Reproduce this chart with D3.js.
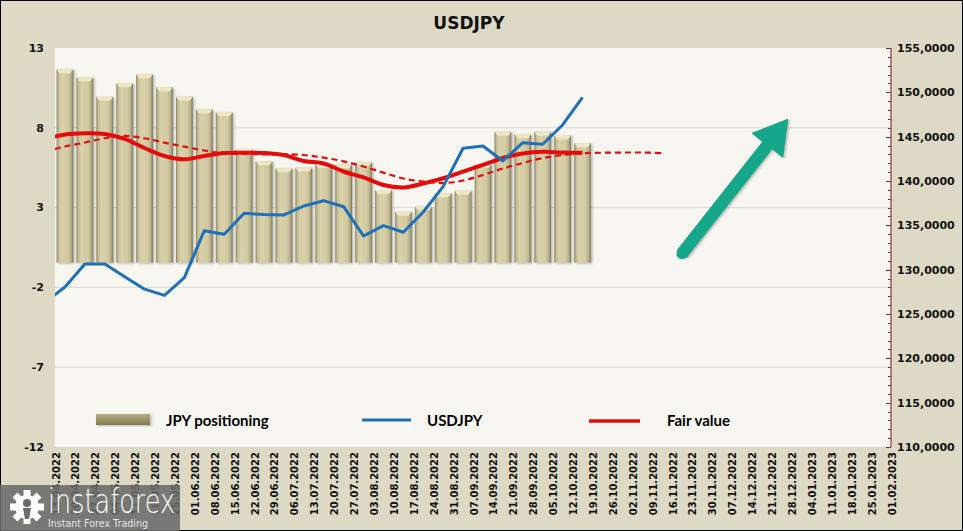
<!DOCTYPE html>
<meta charset="utf-8">
<style>
body { margin: 0; }
svg text { font-family: "DejaVu Sans", Verdana, sans-serif; }
.legend text { font-family: Lato, "Open Sans", sans-serif; font-weight: bold; font-size: 15px; }
</style>
<body>
<svg id="chart"></svg>
<script src="https://d3js.org/d3.v7.min.js"></script>
<script>

// weekly dates on the x axis
var dates = ["13.04.2022","20.04.2022","27.04.2022","04.05.2022","11.05.2022","18.05.2022","25.05.2022",
  "01.06.2022","08.06.2022","15.06.2022","22.06.2022","29.06.2022","06.07.2022","13.07.2022","20.07.2022",
  "27.07.2022","03.08.2022","10.08.2022","17.08.2022","24.08.2022","31.08.2022","07.09.2022","14.09.2022",
  "21.09.2022","28.09.2022","05.10.2022","12.10.2022","19.10.2022","26.10.2022","02.11.2022","09.11.2022",
  "16.11.2022","23.11.2022","30.11.2022","07.12.2022","14.12.2022","21.12.2022","28.12.2022","04.01.2023",
  "11.01.2023","18.01.2023","25.01.2023","01.02.2023"];

// JPY positioning (left axis), from 13.04.2022
var jpyPositioning = [11.67, 11.16, 9.95, 10.79, 11.35, 10.54, 9.95, 9.16, 8.97, 6.67, 5.9, 5.46, 5.51, 5.73,
  5.71, 5.84, 4.1, 2.74, 3.06, 3.9, 4.06, 5.73, 7.76, 7.59, 7.76, 7.51, 7.03];
var barBase = -0.45;

// right axis series, first value is the week before 13.04.2022 (06.04.2022)
var usdjpy = [126.3, 128.05, 130.64, 130.64, 129.2, 127.8, 127.1, 129.1, 134.4, 134.0, 136.36, 136.22, 136.17,
  137.18, 137.78, 137.1, 133.8, 134.96, 134.22, 136.5, 139.36, 143.69, 143.95, 142.26, 144.32, 144.14, 146.32, 149.44];
var fairValue = [144.74, 145.24, 145.38, 145.3, 144.74, 143.72, 142.82, 142.45, 142.82, 143.16, 143.19, 143.16,
  142.93, 142.26, 141.97, 141.07, 140.4, 139.55, 139.27, 139.72, 140.31, 141.05, 141.81, 142.59, 143.1, 143.3,
  143.21, 143.19];
var fairTrend = [143.33, 143.89, 144.34, 144.82, 145.08, 144.82, 144.32, 143.87, 143.44, 143.1, 143.05, 143.01,
  143.01, 142.93, 142.63, 142.22, 141.64, 140.94, 140.28, 139.94, 139.77, 140.06, 140.68, 141.41, 142.03, 142.59,
  142.93, 143.13, 143.19, 143.21, 143.21, 143.15];

var leftTicks = [-12, -7, -2, 3, 8, 13];
var rightTicks = [110, 115, 120, 125, 130, 135, 140, 145, 150, 155];

// arrow annotation: [week position, USDJPY level]
var arrowPts = [[31.5, 131.8], [36.8, 146.9]];

var width = 963, height = 531;
var plot = {left: 55, right: 891, top: 48, bottom: 447};

var svg = d3.select("svg#chart")
    .attr("width", width)
    .attr("height", height);

var defs = svg.append("defs");

var barGrad = defs.append("linearGradient").attr("id", "barGrad")
    .attr("x1", "0").attr("x2", "1").attr("y1", "0").attr("y2", "0");
[[0, "#8a845e"], [0.12, "#c4bd95"], [0.3, "#d8d1aa"], [0.7, "#d1caa2"], [0.88, "#b3ac85"], [1, "#7b7654"]]
  .forEach(s => barGrad.append("stop").attr("offset", s[0]).attr("stop-color", s[1]));

var swGrad = defs.append("linearGradient").attr("id", "swGrad")
    .attr("x1", "0").attr("x2", "0").attr("y1", "0").attr("y2", "1");
[[0, "#b3ad82"], [0.5, "#9a9467"], [1, "#7f7a52"]]
  .forEach(s => swGrad.append("stop").attr("offset", s[0]).attr("stop-color", s[1]));

defs.append("filter").attr("id", "shadow")
  .append("feDropShadow").attr("dx", 1.5).attr("dy", 1).attr("stdDeviation", 1)
    .attr("flood-color", "#777").attr("flood-opacity", 0.5);

defs.append("clipPath").attr("id", "plotclip")
  .append("rect")
    .attr("x", plot.left).attr("y", plot.top)
    .attr("width", plot.right - plot.left).attr("height", plot.bottom - plot.top);

// background
svg.append("rect")
    .attr("x", 0.5).attr("y", 0.5)
    .attr("width", width - 1).attr("height", height - 1)
    .attr("fill", "#ddd9c4")
    .attr("stroke", "#000");

svg.append("rect")
    .attr("x", plot.left).attr("y", plot.top)
    .attr("width", plot.right - plot.left).attr("height", plot.bottom - plot.top)
    .attr("fill", "#f7f6f1");

// scales
var xi = d3.scaleLinear().domain([0, dates.length - 1]).range([plot.left, plot.right]);
var yL = d3.scaleLinear().domain([-12, 13]).range([plot.bottom, plot.top]);
var yR = d3.scaleLinear().domain([110, 155]).range([plot.bottom, plot.top]);
var step = xi(1) - xi(0);
var barW = step * 0.84;

// gridlines
svg.append("g").selectAll("line")
    .data(leftTicks.slice(1, -1))
  .enter().append("line")
    .attr("x1", plot.left).attr("x2", plot.right)
    .attr("y1", d => yL(d)).attr("y2", d => yL(d))
    .attr("stroke", "#d9d9d9")
    .attr("stroke-width", 1);

// bars
var bars = svg.append("g").attr("filter", "url(#shadow)")
  .selectAll("g")
    .data(jpyPositioning)
  .enter().append("g");

bars.append("rect")
    .attr("x", (d, i) => xi(i + 0.5) - barW / 2)
    .attr("y", d => yL(d))
    .attr("width", barW)
    .attr("height", d => yL(barBase) - yL(d))
    .attr("fill", "url(#barGrad)");

bars.append("path")
    .attr("d", function(d, i) {
      var x0 = xi(i + 0.5) - barW / 2, x1 = x0 + barW, y0 = yL(d);
      return "M" + x0 + "," + y0 + "L" + x1 + "," + y0 + "L" + (x1 - 3) + "," + (y0 + 4) +
        "L" + (x0 + 3) + "," + (y0 + 4) + "Z";
    })
    .attr("fill", "#eee7c4");

// lines
var lines = svg.append("g").attr("clip-path", "url(#plotclip)");

var lineLin = d3.line()
    .x((d, i) => xi(i - 0.5))
    .y(d => yR(d));
var lineSmooth = d3.line()
    .x((d, i) => xi(i - 0.5))
    .y(d => yR(d))
    .curve(d3.curveCatmullRom.alpha(0.5));

lines.append("path")
    .datum(fairTrend)
    .attr("d", lineSmooth)
    .attr("fill", "none")
    .attr("stroke", "#e40d0d")
    .attr("stroke-width", 2.2)
    .attr("stroke-dasharray", "6,4");

lines.append("path")
    .datum(fairValue)
    .attr("d", lineSmooth)
    .attr("fill", "none")
    .attr("stroke", "#e60b0b")
    .attr("stroke-width", 4);

lines.append("path")
    .datum(usdjpy)
    .attr("d", lineLin)
    .attr("fill", "none")
    .attr("stroke", "#1f70b8")
    .attr("stroke-width", 3)
    .attr("stroke-linejoin", "round");

// green arrow
(function() {
  var p0 = [xi(arrowPts[0][0]), yR(arrowPts[0][1])];
  var p1 = [xi(arrowPts[1][0]), yR(arrowPts[1][1])];
  var dx = p1[0] - p0[0], dy = p1[1] - p0[1], len = Math.sqrt(dx * dx + dy * dy);
  var ux = dx / len, uy = dy / len, nx = -uy, ny = ux;
  var headLen = 32, headW = 19, shaftW = 5.5;
  var b = [p1[0] - ux * headLen, p1[1] - uy * headLen];
  var pts = [
    [p0[0] + nx * shaftW, p0[1] + ny * shaftW],
    [b[0] + nx * shaftW, b[1] + ny * shaftW],
    [b[0] + nx * headW, b[1] + ny * headW],
    p1,
    [b[0] - nx * headW, b[1] - ny * headW],
    [b[0] - nx * shaftW, b[1] - ny * shaftW],
    [p0[0] - nx * shaftW, p0[1] - ny * shaftW]
  ];
  svg.append("path")
      .attr("d", "M" + pts.map(p => p.join(",")).join("L") + "Z")
      .attr("fill", "#17a689")
      .attr("stroke", "#17a689")
      .attr("stroke-width", 1.5)
      .attr("stroke-linejoin", "round")
      .attr("filter", "url(#shadow)");
  svg.append("circle")
      .attr("cx", p0[0]).attr("cy", p0[1]).attr("r", shaftW)
      .attr("fill", "#17a689");
})();

// left axis labels
svg.append("g").selectAll("text")
    .data(leftTicks)
  .enter().append("text")
    .attr("x", 44)
    .attr("y", d => yL(d))
    .attr("dy", "0.35em")
    .attr("text-anchor", "end")
    .attr("font-size", "11px")
    .attr("font-weight", "bold")
    .attr("fill", "#111")
    .text(d => d);

// right axis
svg.append("line")
    .attr("x1", plot.right).attr("x2", plot.right)
    .attr("y1", plot.top).attr("y2", plot.bottom)
    .attr("stroke", "#8b3a3a").attr("stroke-width", 1.2);

svg.append("g").selectAll("line")
    .data(d3.range(110, 156, 1))
  .enter().append("line")
    .attr("x1", plot.right).attr("x2", d => plot.right - (d % 5 === 0 ? 5 : 3))
    .attr("y1", d => Math.round(yR(d)) + 0.5).attr("y2", d => Math.round(yR(d)) + 0.5)
    .attr("stroke", "#6b3030")
    .attr("stroke-width", 1);

svg.append("g").selectAll("text")
    .data(rightTicks)
  .enter().append("text")
    .attr("x", 897)
    .attr("y", d => yR(d))
    .attr("dy", "0.35em")
    .attr("font-size", "11px")
    .attr("font-weight", "bold")
    .attr("fill", "#111")
    .text(d => d + ",0000");

// x labels
svg.append("g").selectAll("text")
    .data(dates)
  .enter().append("text")
    .attr("transform", (d, i) => "translate(" + (xi(i) + 1) + ",452) rotate(-90)")
    .attr("dy", "0.35em")
    .attr("text-anchor", "end")
    .attr("font-size", "10px")
    .attr("font-weight", "bold")
    .attr("fill", "#111")
    .text(d => d);

// title
svg.append("text")
    .attr("x", 469)
    .attr("y", 29)
    .attr("text-anchor", "middle")
    .attr("font-size", "17px")
    .attr("font-weight", "bold")
    .attr("fill", "#111")
    .text("USDJPY");

// legend
var legend = svg.append("g").attr("class", "legend");
legend.append("rect")
    .attr("x", 96).attr("y", 414).attr("width", 54).attr("height", 11)
    .attr("fill", "url(#swGrad)")
    .attr("filter", "url(#shadow)");
legend.append("text").attr("x", 166).attr("y", 426).text("JPY positioning");
legend.append("line")
    .attr("x1", 362).attr("x2", 411).attr("y1", 420).attr("y2", 420)
    .attr("stroke", "#1f70b8").attr("stroke-width", 3);
legend.append("text").attr("x", 427).attr("y", 426).text("USDJPY");
legend.append("line")
    .attr("x1", 589).attr("x2", 640).attr("y1", 421).attr("y2", 421)
    .attr("stroke", "#e60b0b").attr("stroke-width", 3.5);
legend.append("text").attr("x", 667).attr("y", 426).text("Fair value");

// logo (drawn over the first x labels, as in the original)
var logo = svg.append("g");
logo.append("rect")
    .attr("x", 0).attr("y", 485).attr("width", 180).attr("height", 46)
    .attr("fill", "#6a6a6a").attr("opacity", 0.88);
var gear = logo.append("g").attr("transform", "translate(27,507)");
gear.selectAll("rect")
    .data(d3.range(8))
  .enter().append("rect")
    .attr("x", -3.5).attr("y", -17).attr("width", 7).attr("height", 8)
    .attr("fill", "#fff")
    .attr("transform", d => "rotate(" + d * 45 + ")");
gear.append("circle").attr("r", 12).attr("fill", "#fff");
gear.append("circle").attr("r", 4).attr("cy", -4).attr("fill", "#6a6a6a");
gear.append("path").attr("d", "M-4,1 L4,1 L2,12 L-2,12 Z").attr("fill", "#6a6a6a");
logo.append("text")
    .attr("x", 48).attr("y", 513)
    .attr("font-family", "'Open Sans', Roboto, sans-serif")
    .attr("font-weight", 300)
    .attr("font-size", "33px")
    .attr("textLength", 127)
    .attr("lengthAdjust", "spacingAndGlyphs")
    .attr("fill", "#fff")
    .text("instaforex");
logo.append("text")
    .attr("x", 48).attr("y", 527)
    .attr("font-family", "'Open Sans', Roboto, sans-serif")
    .attr("font-size", "11px")
    .attr("textLength", 100)
    .attr("lengthAdjust", "spacingAndGlyphs")
    .attr("fill", "#e6e6e6")
    .text("Instant Forex Trading");

</script>
